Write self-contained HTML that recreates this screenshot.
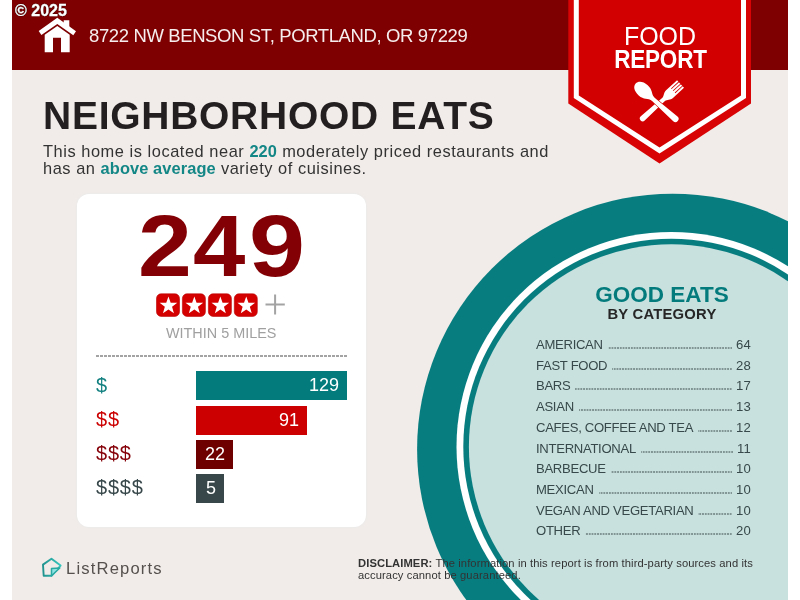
<!DOCTYPE html>
<html><head><meta charset="utf-8">
<style>
*{margin:0;padding:0;box-sizing:border-box}
.a,.bar,.row{will-change:transform}
html,body{width:800px;height:600px;overflow:hidden;background:#fff;font-family:"Liberation Sans",sans-serif}
.a{position:absolute;white-space:nowrap}
#bg{position:absolute;left:12px;top:0;width:776px;height:600px;background:#f1ece9}
#hdr{position:absolute;left:12px;top:0;width:776px;height:70px;background:#7f0000}
svg{position:absolute;left:0;top:0}
.addr{left:89px;top:26px;font-size:18.5px;color:#f6eeee;line-height:20px;letter-spacing:-0.38px}
.copy{left:15px;top:2px;font-size:16px;font-weight:bold;color:#fff;line-height:18px;-webkit-text-stroke:0.3px #fff;text-shadow:0 0 1px #000,0 0 1px #000}
.title{left:43px;top:95.8px;font-size:39px;font-weight:bold;color:#231f20;line-height:40px;letter-spacing:0.73px}
.intro{left:43px;top:142.6px;font-size:16.4px;color:#333;line-height:17.2px;letter-spacing:0.545px}
.teal{color:#138686;font-weight:bold;letter-spacing:0.1px}
#card{position:absolute;left:77px;top:194px;width:289px;height:333px;background:#fff;border-radius:12px;box-shadow:0 0 1.5px 1px #ecebea}
.big{font-size:88px;font-weight:bold;color:#830004;line-height:88px}
.within{left:166px;top:325px;font-size:14.4px;color:#a0a0a0;line-height:16px}
.dots{position:absolute;left:95.5px;top:354.8px;width:252px;height:2px;background-image:linear-gradient(90deg,#a3a3a3 68%,transparent 68%);background-size:4px 2px}
.lab{left:96px;font-size:20px;line-height:20px;letter-spacing:0.8px}
.bar{position:absolute;left:196px;height:29px;color:#fff;font-size:18px;line-height:29px;text-align:right;padding-right:8px}
.row{position:absolute;left:535.75px;width:215px;display:flex;align-items:baseline;font-size:13.1px;color:#37494a;line-height:14px;white-space:nowrap;letter-spacing:-0.3px}
.row i{flex:1;height:1.5px;margin:0 4px 0 5px;background-image:linear-gradient(90deg,transparent 50%,#37494a 50%);background-size:2.77px 1.5px;background-position:right 0;transform:translateY(-0.5px)}
.row span:last-child{letter-spacing:0.2px}
.disc{left:358px;top:557.6px;font-size:11.2px;color:#333;line-height:11.7px;letter-spacing:0.1px}
.lr{left:66px;top:560px;font-size:16.6px;color:#55504e;line-height:18px;letter-spacing:1.17px}
</style></head><body>
<div id="bg"></div>
<div id="hdr"></div>
<svg width="800" height="600" viewBox="0 0 800 600">
  <defs><clipPath id="pg"><rect x="12" y="0" width="776" height="600"/></clipPath></defs>
  <g clip-path="url(#pg)">
    <circle cx="672.6" cy="449.2" r="255.5" fill="#087d80"/>
    <circle cx="671.3" cy="446.7" r="214.8" fill="#fff"/>
    <circle cx="671.3" cy="446.7" r="208" fill="#087d80"/>
    <circle cx="671.3" cy="446.7" r="202.4" fill="#c8e0de"/>
  </g>
  <!-- badge -->
  <polygon points="568.3,0 751,0 751,103.5 659.5,163.5 568.3,103.5" fill="#d70305"/>
  <polygon points="573.8,0 746,0 746,98 659.5,153.5 573.8,98" fill="#fff"/>
  <polygon points="578.8,0 741,0 741,95.6 659.5,147.5 578.8,95.6" fill="#d20000"/>
  <!-- fork -->
  <g transform="translate(640.6,120.4) rotate(-42.3)" fill="#fff">
    <path d="M2.9,-2.9 L31,-2.1 C34,-2.1 35.5,-5.15 39.1,-5.15 L54,-5.15 L54,5.15 L39.1,5.15 C35.5,5.15 34,2.1 31,2.1 L2.9,2.9 A2.9,2.9 0 0 1 2.9,-2.9 Z"/>
    <g fill="#d20000"><rect x="44" y="-3.25" width="10.5" height="0.9"/><rect x="44" y="-0.45" width="10.5" height="0.9"/><rect x="44" y="2.35" width="10.5" height="0.9"/></g>
  </g>
  <!-- spoon -->
  <g transform="translate(677.75,121) rotate(-138.4)" fill="#fff" stroke="#d20000" stroke-width="1.2" paint-order="stroke">
    <path d="M3.2,-3.2 L30,-2.1 L35,-2 L35,2 L30,2.1 L3.2,3.2 A3.2,3.2 0 0 1 3.2,-3.2 Z"/>
    <path stroke="none" d="M33,-1.9 C37.5,-2.5 39.5,-6.8 46.2,-6.8 C52.4,-6.8 56.3,-3.9 56.3,0 C56.3,3.9 52.4,6.8 46.2,6.8 C39.5,6.8 37.5,2.5 33,1.9 Z"/>
  </g>
  <!-- house -->
  <polygon points="57.3,17.7 76,31.2 73.3,35.3 57.3,24 41.4,35.1 38.7,31" fill="#fff"/>
  <polygon points="63.7,20.3 69.3,20.3 69.3,28.5 63.7,24.5" fill="#fff"/>
  <path d="M44.7,52.3 L44.7,34.8 L57.3,26 L69.7,34.8 L69.7,52.3 L61,52.3 L61,37.7 L53,37.7 L53,52.3 Z" fill="#fff"/>
</svg>
<div class="a addr">8722 NW BENSON ST, PORTLAND, OR 97229</div>
<div class="a" style="left:559.5px;top:25px;width:200px;text-align:center;color:#fff;font-size:25px;line-height:23.3px">FOOD<br><b style="display:inline-block;transform:scaleX(0.9);letter-spacing:-0.2px">REPORT</b></div>
<div class="a title">NEIGHBORHOOD EATS</div>
<div class="a intro">This home is located near <span class="teal">220</span> moderately priced restaurants and<br>has an <span class="teal">above average</span> variety of cuisines.</div>
<div id="card"></div>
<div class="a big" style="left:138px;top:202px;transform-origin:0 0;transform:scaleX(1.1)">2</div>
<div class="a big" style="left:192.8px;top:202px;transform-origin:0 0;transform:scaleX(1.07)">4</div>
<div class="a big" style="left:249.4px;top:202px;transform-origin:0 0;transform:scaleX(1.145)">9</div>
<svg width="800" height="600" viewBox="0 0 800 600">
  <defs><g id="st"><rect x="0.3" y="0.3" width="23" height="22.6" rx="4.6" fill="#d40000" stroke="#bb0000" stroke-width="0.6"/><polygon fill="#fff" points="12.25,2.90 14.48,9.13 21.09,9.33 15.86,13.37 17.72,19.72 12.25,16.00 6.78,19.72 8.64,13.37 3.41,9.33 10.02,9.13"/></g></defs>
  <use href="#st" x="156.2" y="293.5"/><use href="#st" x="182.1" y="293.5"/><use href="#st" x="208.1" y="293.5"/><use href="#st" x="234" y="293.5"/>
  <path d="M275.1,294.6 V314.4 M265.5,304.5 H284.8" stroke="#a3a3a3" stroke-width="2"/>
</svg>
<div class="a within">WITHIN 5 MILES</div>
<div class="dots"></div>
<div class="a lab" style="top:375px;color:#138080">$</div>
<div class="a lab" style="top:409px;color:#cc0000">$$</div>
<div class="a lab" style="top:442.5px;color:#850008">$$$</div>
<div class="a lab" style="top:477px;color:#37474a">$$$$</div>
<div class="bar" style="top:371px;width:151px;background:#037b7c">129</div>
<div class="bar" style="top:405.5px;width:111px;background:#cc0000">91</div>
<div class="bar" style="top:440px;width:37px;background:#6e0000">22</div>
<div class="bar" style="top:474px;width:28px;background:#37474a">5</div>
<div class="a" style="left:550px;top:282.7px;width:224px;text-align:center;color:#037b7c;font-size:22.5px;font-weight:bold;line-height:24px">GOOD EATS</div>
<div class="a" style="left:550px;top:306.2px;width:224px;text-align:center;color:#262626;font-size:14.8px;font-weight:bold;line-height:16px;letter-spacing:0.23px">BY CATEGORY</div>
<div class="row" style="top:338px"><span>AMERICAN</span><i></i><span>64</span></div>
<div class="row" style="top:358.7px"><span>FAST FOOD</span><i></i><span>28</span></div>
<div class="row" style="top:379.4px"><span>BARS</span><i></i><span>17</span></div>
<div class="row" style="top:400.1px"><span>ASIAN</span><i></i><span>13</span></div>
<div class="row" style="top:420.8px"><span>CAFES, COFFEE AND TEA</span><i></i><span>12</span></div>
<div class="row" style="top:441.5px"><span>INTERNATIONAL</span><i></i><span>11</span></div>
<div class="row" style="top:462.2px"><span>BARBECUE</span><i></i><span>10</span></div>
<div class="row" style="top:482.9px"><span>MEXICAN</span><i></i><span>10</span></div>
<div class="row" style="top:503.6px"><span>VEGAN AND VEGETARIAN</span><i></i><span>10</span></div>
<div class="row" style="top:524.3px"><span>OTHER</span><i></i><span>20</span></div>
<svg width="800" height="600" viewBox="0 0 800 600">
  <defs><linearGradient id="lg" x1="0" y1="0" x2="1" y2="0"><stop offset="0" stop-color="#22938f"/><stop offset="1" stop-color="#36c6bd"/></linearGradient></defs>
  <path d="M43.7,575.8 L43,564.6 L51.5,558.8 L60.6,565.6 L51.5,575.8 Z" fill="none" stroke="url(#lg)" stroke-width="1.9" stroke-linejoin="round"/>
  <path d="M51.5,575.8 L51.5,568.5 L59.8,568 Z" fill="#8fe3e3" stroke="#2aa9a2" stroke-width="1.5" stroke-linejoin="round"/>
</svg>
<div class="a lr">ListReports</div>
<div class="a disc"><b>DISCLAIMER:</b> The information in this report is from third-party sources and its<br>accuracy cannot be guaranteed.</div>
<div class="a copy">© 2025</div>
</body></html>
